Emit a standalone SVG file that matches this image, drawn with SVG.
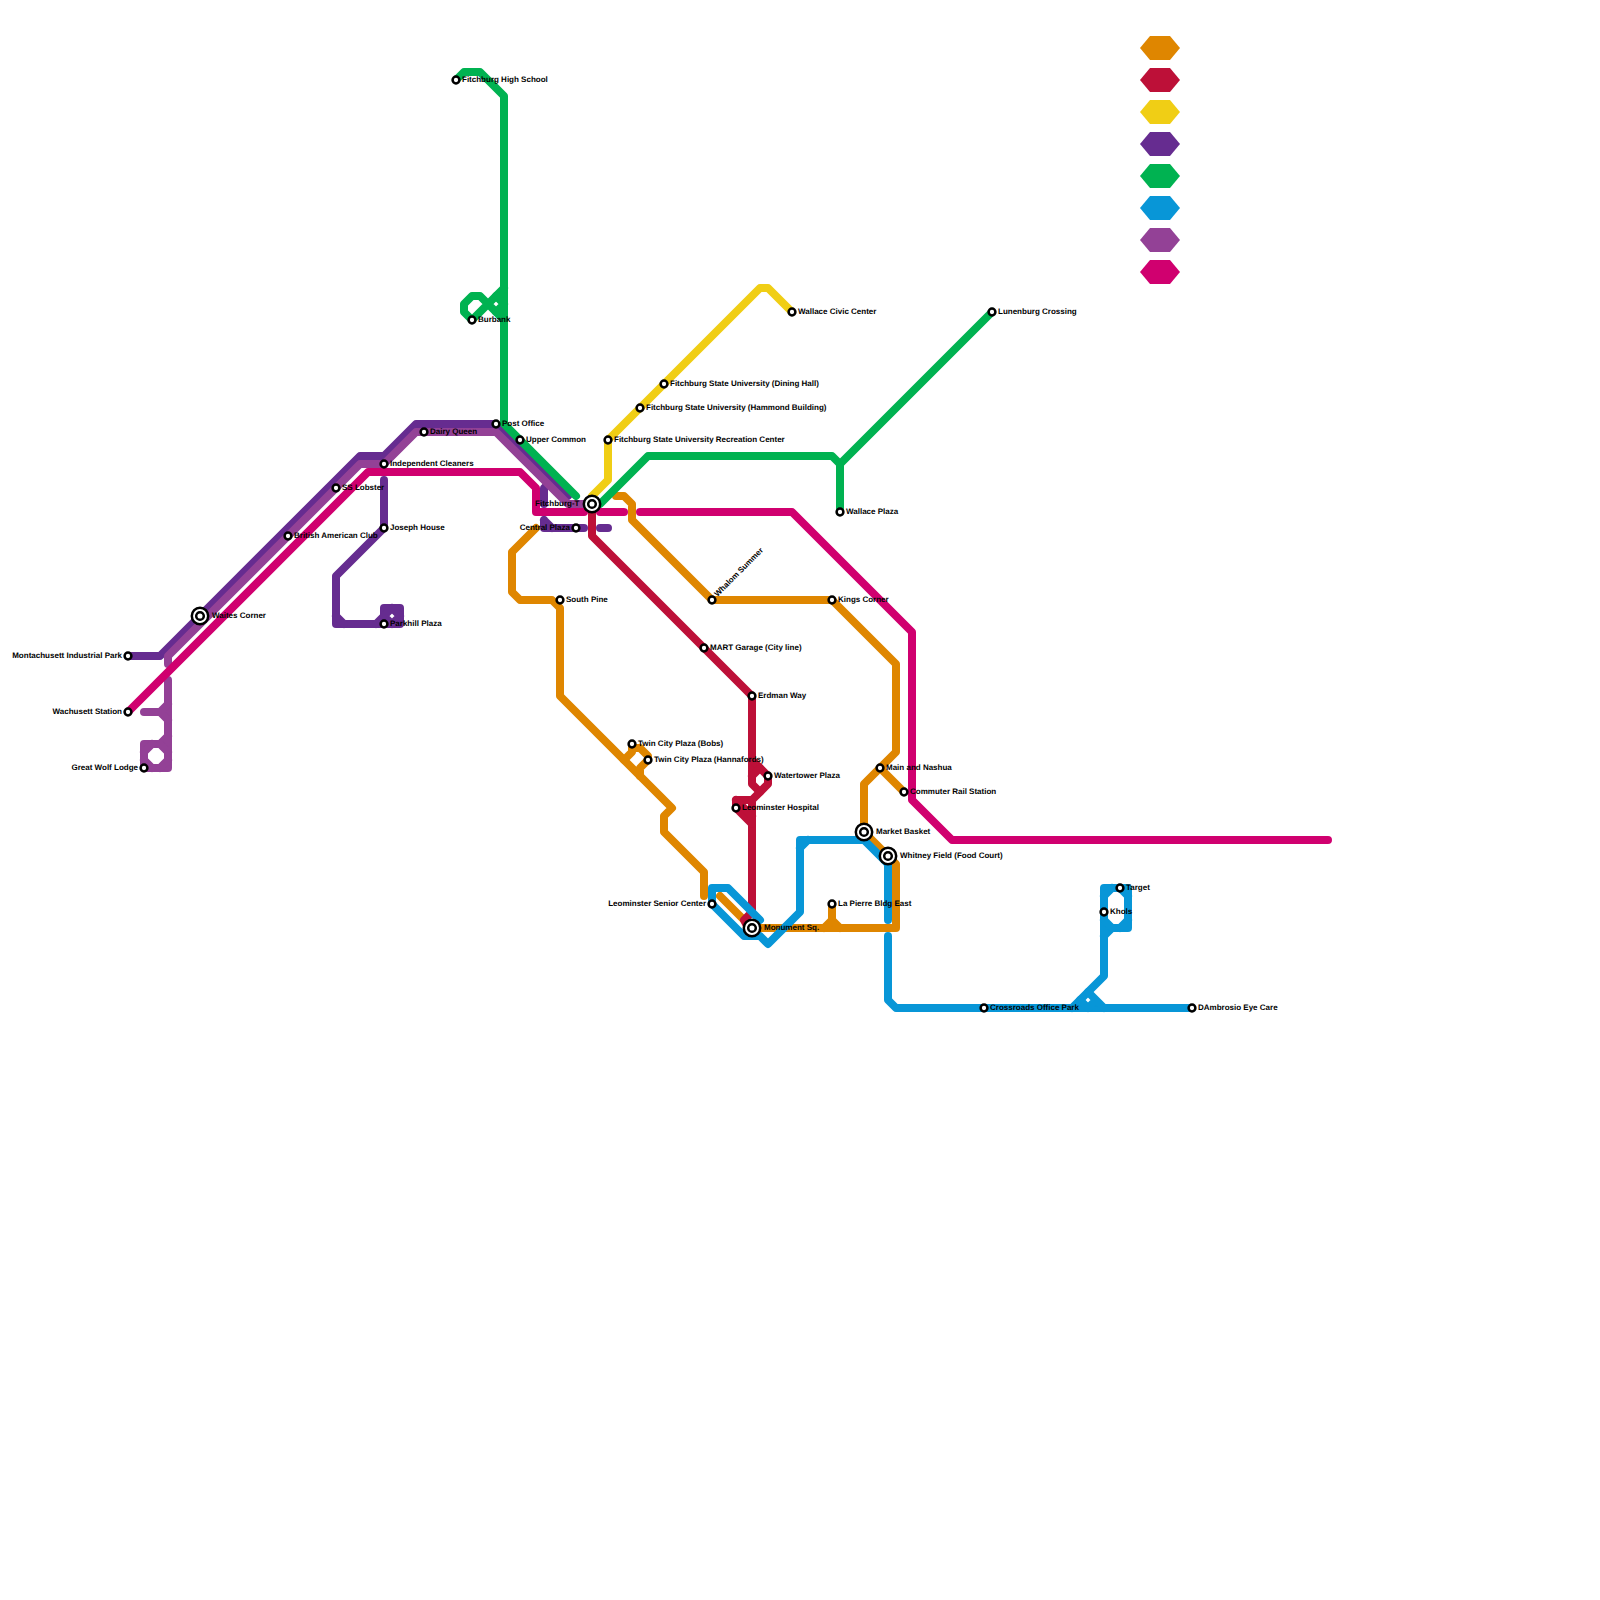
<svg xmlns="http://www.w3.org/2000/svg" width="1600" height="1600" viewBox="0 0 1600 1600">
<style>
.l{fill:none;stroke-width:8;stroke-linecap:round;stroke-linejoin:round}
.o{stroke:#df8600}.r{stroke:#bd1038}.y{stroke:#f0ce15}.p{stroke:#662c90}.g{stroke:#00b251}.b{stroke:#0896d7}.v{stroke:#934196}.m{stroke:#d0006f}
.s{fill:#fff;stroke:#000;stroke-width:2.5}
text{font-family:"Liberation Sans",Arial,sans-serif;font-weight:700;font-size:8px;fill:#000;text-rendering:geometricPrecision}
.e{text-anchor:end}
</style>
<defs>
<g id="st"><circle class="s" r="3.4"/></g>
<g id="ic"><circle class="s" r="8.2"/><circle class="s" r="3.8"/></g>
<polygon id="hex" points="-20,0 -10,-12 10,-12 20,0 10,12 -10,12"/>
</defs>
<g id="connectors">
<g id="line-orange" class="l o">
<path d="M616 496H624L632 504V520L712 600H832L896 664V752L864 784V832L896 864V928H752L720 896"/>
<path d="M880 768L904 792"/>
<path d="M832 904V920L824 928M832 920L840 928"/>
<path d="M536 528L512 552V592L520 600H552L560 608V696L672 808L664 816V832L704 872V896"/>
<path d="M624 760L632 752V748H640L648 756V760L640 768V776"/>
</g>
<g id="line-red" class="l r">
<path d="M592 512V536L752 696V784L760 792"/>
<path d="M752 760L768 776V784L752 800H736V808L752 824V912L744 920L748 928"/>
<path d="M752 776L760 768M736 800L752 816M752 800V824"/>
</g>
<g id="line-yellow" class="l y">
<path d="M592 496L608 480V440L760 288H768L792 312"/>
</g>
<g id="line-purple" class="l p">
<path d="M128 656H160L360 456H384L416 424H496L568 496"/>
<path d="M552 480L544 488V504"/>
<path d="M544 520V528H584M544 520L552 528M600 528H608"/>
<path d="M384 480V528L336 576V624H400V608H384V624"/>
<path d="M336 616L344 624M376 624L384 616L392 608L400 616L392 624L384 616"/>
</g>
<g id="line-green" class="l g">
<path d="M456 80L464 72H480L504 96V424L576 496"/>
<path d="M504 288L472 320L464 312V304L472 296H480L504 320"/>
<path d="M496 296L504 304L496 312"/>
<path d="M600 504L648 456H832L840 464L992 312M840 464V512"/>
</g>
<g id="line-blue" class="l b">
<path d="M712 904V888H728L760 920"/>
<path d="M712 904L744 936H760L768 944L800 912V840H864L888 864V920M800 848L808 840"/>
<path d="M888 936V1000L896 1008H1192"/>
<path d="M1072 1008L1104 976V888H1128V928H1112L1104 936M1104 928H1112"/>
<path d="M1104 896L1112 888M1120 888L1128 896M1128 920L1120 928M1104 920L1112 928"/>
<path d="M1088 992L1104 1008M1080 1000L1088 1008L1096 1000"/>
</g>
<g id="line-violet" class="l v">
<path d="M168 664V656L360 464H384L416 432H496L568 504H592"/>
<path d="M168 680V768H144V744H160L168 736"/>
<path d="M144 712H160L168 704M160 712L168 720"/>
<path d="M144 752L152 744M160 744L168 752M144 760L152 768M160 768L168 760"/>
</g>
<g id="line-magenta" class="l m">
<path d="M128 712L368 472H520L536 488V512H584"/>
<path d="M600 512H624"/>
<path d="M640 512H792L912 632V800L952 840H1328"/>
</g>
</g>
<g id="legend">
<use id="legend-orange" href="#hex" x="1160" y="48" fill="#df8600"/>
<use id="legend-red" href="#hex" x="1160" y="80" fill="#bd1038"/>
<use id="legend-yellow" href="#hex" x="1160" y="112" fill="#f0ce15"/>
<use id="legend-purple" href="#hex" x="1160" y="144" fill="#662c90"/>
<use id="legend-green" href="#hex" x="1160" y="176" fill="#00b251"/>
<use id="legend-blue" href="#hex" x="1160" y="208" fill="#0896d7"/>
<use id="legend-violet" href="#hex" x="1160" y="240" fill="#934196"/>
<use id="legend-magenta" href="#hex" x="1160" y="272" fill="#d0006f"/>
</g>
<g id="stations">
<g id="n-fitchburg-high"><use href="#st" x="456" y="80"/><text x="462" y="81.6">Fitchburg High School</text></g>
<g id="n-burbank"><use href="#st" x="472" y="320"/><text x="478" y="321.6">Burbank</text></g>
<g id="n-post-office"><use href="#st" x="496" y="424"/><text x="502" y="425.6">Post Office</text></g>
<g id="n-upper-common"><use href="#st" x="520" y="440"/><text x="526" y="441.6">Upper Common</text></g>
<g id="n-rec-center"><use href="#st" x="608" y="440"/><text x="614" y="441.6">Fitchburg State University Recreation Center</text></g>
<g id="n-hammond"><use href="#st" x="640" y="408"/><text x="646" y="409.6">Fitchburg State University (Hammond Building)</text></g>
<g id="n-dining"><use href="#st" x="664" y="384"/><text x="670" y="385.6">Fitchburg State University (Dining Hall)</text></g>
<g id="n-wallace-civic"><use href="#st" x="792" y="312"/><text x="798" y="313.6">Wallace Civic Center</text></g>
<g id="n-lunenburg"><use href="#st" x="992" y="312"/><text x="998" y="313.6">Lunenburg Crossing</text></g>
<g id="n-wallace-plaza"><use href="#st" x="840" y="512"/><text x="846" y="513.6">Wallace Plaza</text></g>
<g id="n-kings"><use href="#st" x="832" y="600"/><text x="838" y="601.6">Kings Corner</text></g>
<g id="n-whalom"><use href="#st" x="712" y="600"/><text transform="translate(717.5 597) rotate(-45)">Whalom Summer</text></g>
<g id="n-south-pine"><use href="#st" x="560" y="600"/><text x="566" y="601.6">South Pine</text></g>
<g id="n-central"><use href="#st" x="576" y="528"/><text class="e" x="570" y="529.6">Central Plaza</text></g>
<g id="n-mart"><use href="#st" x="704" y="648"/><text x="710" y="649.6">MART Garage (City line)</text></g>
<g id="n-erdman"><use href="#st" x="752" y="696"/><text x="758" y="697.6">Erdman Way</text></g>
<g id="n-watertower"><use href="#st" x="768" y="776"/><text x="774" y="777.6">Watertower Plaza</text></g>
<g id="n-hospital"><use href="#st" x="736" y="808"/><text x="742" y="809.6">Leominster Hospital</text></g>
<g id="n-bobs"><use href="#st" x="632" y="744"/><text x="638" y="745.6">Twin City Plaza (Bobs)</text></g>
<g id="n-hannafords"><use href="#st" x="648" y="760"/><text x="654" y="761.6">Twin City Plaza (Hannafords)</text></g>
<g id="n-main-nashua"><use href="#st" x="880" y="768"/><text x="886" y="769.6">Main and Nashua</text></g>
<g id="n-commuter"><use href="#st" x="904" y="792"/><text x="910" y="793.6">Commuter Rail Station</text></g>
<g id="n-la-pierre"><use href="#st" x="832" y="904"/><text x="838" y="905.6">La Pierre Bldg East</text></g>
<g id="n-senior"><use href="#st" x="712" y="904"/><text class="e" x="706" y="905.6">Leominster Senior Center</text></g>
<g id="n-target"><use href="#st" x="1120" y="888"/><text x="1126" y="889.6">Target</text></g>
<g id="n-khols"><use href="#st" x="1104" y="912"/><text x="1110" y="913.6">Khols</text></g>
<g id="n-crossroads"><use href="#st" x="984" y="1008"/><text x="990" y="1009.6">Crossroads Office Park</text></g>
<g id="n-dambrosio"><use href="#st" x="1192" y="1008"/><text x="1198" y="1009.6">DAmbrosio Eye Care</text></g>
<g id="n-montachusett"><use href="#st" x="128" y="656"/><text class="e" x="122" y="657.6">Montachusett Industrial Park</text></g>
<g id="n-wachusett"><use href="#st" x="128" y="712"/><text class="e" x="122" y="713.6">Wachusett Station</text></g>
<g id="n-great-wolf"><use href="#st" x="144" y="768"/><text class="e" x="138" y="769.6">Great Wolf Lodge</text></g>
<g id="n-british"><use href="#st" x="288" y="536"/><text x="294" y="537.6">British American Club</text></g>
<g id="n-ss-lobster"><use href="#st" x="336" y="488"/><text x="342" y="489.6">SS Lobster</text></g>
<g id="n-independent"><use href="#st" x="384" y="464"/><text x="390" y="465.6">Independent Cleaners</text></g>
<g id="n-joseph"><use href="#st" x="384" y="528"/><text x="390" y="529.6">Joseph House</text></g>
<g id="n-parkhill"><use href="#st" x="384" y="624"/><text x="390" y="625.6">Parkhill Plaza</text></g>
<g id="n-dairy"><use href="#st" x="424" y="432"/><text x="430" y="433.6">Dairy Queen</text></g>
<g id="n-fitchburg-t"><use href="#ic" x="592" y="504"/><text class="e" x="579.5" y="505.6">Fitchburg-T</text></g>
<g id="n-waites"><use href="#ic" x="200" y="616"/><text x="212" y="617.6">Waites Corner</text></g>
<g id="n-market"><use href="#ic" x="864" y="832"/><text x="876" y="833.6">Market Basket</text></g>
<g id="n-whitney"><use href="#ic" x="888" y="856"/><text x="900" y="857.6">Whitney Field (Food Court)</text></g>
<g id="n-monument"><use href="#ic" x="752" y="928"/><text x="764" y="929.6">Monument Sq.</text></g>
</g>
</svg>
